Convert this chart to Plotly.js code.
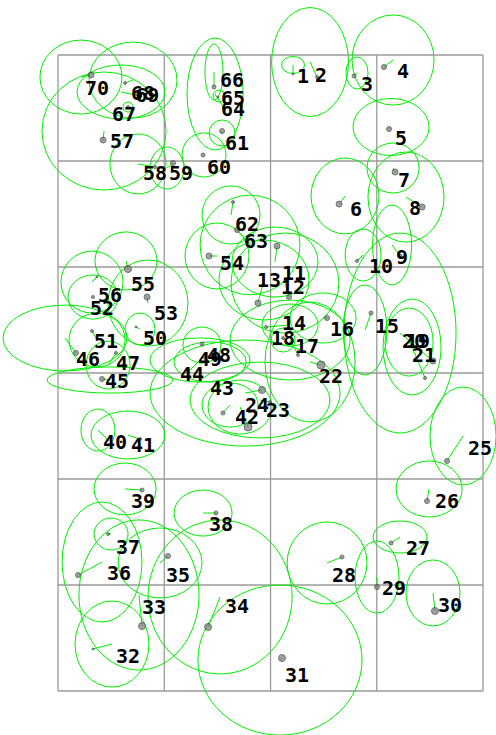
<!DOCTYPE html>
<html><head><meta charset="utf-8">
<script src="https://cdn.plot.ly/plotly-3.0.1.min.js"></script>
<style>html,body{margin:0;padding:0;background:#fff}#chart{width:496px;height:735px}</style>
</head><body><div id="chart"></div>
<script>
const labels = ["1","2","3","4","5","6","7","8","9","10","11","12","13","14","15","16","17","18","19","20","21","22","23","24","25","26","27","28","29","30","31","32","33","34","35","36","37","38","39","40","41","42","43","44","45","46","47","48","49","50","51","52","53","54","55","56","57","58","59","60","61","62","63","64","65","66","67","68","69","70"];
const ptX = [2.212,2.438,2.786,3.068,3.115,2.645,3.172,3.426,3.219,2.814, 2.061,2.174,1.882,1.958,2.946,2.532,2.259,2.118,3.454,3.332, 3.529,2.475,1.995,1.92,3.661,3.473,3.134,2.673,3.002,3.548, 2.108,0.329,0.791,1.412,1.035,0.188,0.471,1.487,0.791,0.471, 0.772,1.788,1.553,1.224,0.414,0.169,0.546,1.355,1.384,0.734, 0.32,0.329,0.838,1.421,0.659,0.367,0.424,0.913,1.082,1.365, 1.544,1.647,1.685,1.562,1.506,1.468,0.659,0.631,0.772,0.311];
const ptY = [0.179,0.208,0.198,0.113,0.698,1.406,1.104,1.434,1.896,1.943, 1.802,2.283,2.34,2.566,2.434,2.481,2.83,2.67,3.047,2.736, 2.887,2.925,3.274,3.16,3.83,4.208,4.604,4.736,5.019,5.245, 5.689,5.604,5.387,5.396,4.726,4.906,4.519,4.321,4.104,3.632, 3.623,3.509,3.377,2.991,3.057,2.811,2.811,2.726,2.858,2.566, 2.604,2.283,2.283,1.896,2.019,2.094,0.802,1.057,1.019,0.943, 0.717,1.387,1.651,0.5,0.396,0.302,0.491,0.264,0.387,0.189];
const vecX = [2.212,2.372,2.814,3.153,3.134,2.701,3.153,3.275,3.144,2.871, 2.042,2.136,1.939,2.184,2.889,2.494,2.184,2.118,3.332,3.304, 3.219,2.372,1.901,1.76,3.812,3.492,3.219,2.532,3.002,3.529, 2.089,0.508,0.762,1.525,0.96,0.414,0.499,1.365,0.631,0.376, 0.659,1.713,1.619,1.336,0.489,0.066,0.471,1.355,1.431,0.772, 0.367,0.329,0.847,1.496,0.64,0.32,0.433,0.753,1.026,1.374, 1.544,1.628,1.807,1.478,1.515,1.468,0.659,0.706,0.593,0.216];
const vecY = [0.094,0.066,0.17,0.047,0.679,1.33,1.066,1.34,1.792,1.887, 1.953,2.151,2.123,2.547,2.594,2.481,2.689,2.689,2.755,2.708, 2.623,2.896,3.255,3.189,3.594,4.094,4.547,4.792,4.925,5.075, 5.708,5.557,5.094,5.113,4.792,4.783,4.519,4.321,4.094,3.538, 3.585,3.321,3.302,2.877,3.066,2.67,2.925,2.736,2.896,2.585, 2.689,2.283,2.34,1.896,1.943,2.142,0.717,1.028,1.066,0.943, 0.736,1.509,1.792,0.368,0.387,0.16,0.491,0.236,0.349,0.208];
const ellRX = [0.108,0.362,0.104,0.386,0.358,0.32,0.245,0.358,0.184,0.169, 0.405,0.508,0.424,0.264,0.207,0.311,0.565,0.113,0.273,0.226, 0.527,0.424,0.659,0.894,0.311,0.311,0.254,0.376,0.207,0.254, 0.772,0.348,0.565,0.678,0.395,0.376,0.16,0.273,0.292,0.16, 0.348,0.301,0.264,0.471,0.593,0.584,0.207,0.179,0.339,0.141, 0.264,0.235,0.376,0.301,0.292,0.292,0.584,0.264,0.16,0.207, 0.122,0.273,0.47,0.264,0.056,0.085,0.047,0.414,0.414,0.386];
const ellRY = [0.08,0.514,0.151,0.425,0.269,0.358,0.236,0.425,0.377,0.245, 0.33,0.472,0.377,0.198,0.425,0.236,0.377,0.113,0.453,0.321, 0.943,0.566,0.358,0.5,0.462,0.264,0.151,0.387,0.34,0.311, 0.708,0.406,0.708,0.726,0.33,0.566,0.151,0.217,0.245,0.198, 0.226,0.255,0.208,0.208,0.123,0.311,0.226,0.17,0.189,0.151, 0.255,0.208,0.406,0.311,0.274,0.292,0.557,0.283,0.198,0.208, 0.123,0.274,0.47,0.528,0.056,0.264,0.047,0.358,0.255,0.349];
const labX = [2.306,2.475,2.908,3.247,3.228,2.805,3.256,3.36,3.238,3.04, 2.221,2.212,1.986,2.221,3.096,2.673,2.344,2.118,3.388,3.351, 3.445,2.569,2.071,1.873,3.972,3.661,3.388,2.692,3.162,3.689, 2.249,0.659,0.904,1.685,1.129,0.574,0.659,1.534,0.8,0.536, 0.8,1.779,1.544,1.261,0.555,0.282,0.659,1.515,1.431,0.913, 0.452,0.414,1.016,1.638,0.8,0.489,0.602,0.913,1.158,1.515, 1.685,1.779,1.864,1.647,1.647,1.638,0.621,0.8,0.84,0.367];
const labY = [0.217,0.208,0.292,0.17,0.802,1.472,1.198,1.462,1.925,2.009, 2.075,2.208,2.142,2.547,2.575,2.604,2.764,2.689,2.717,2.717, 2.849,3.047,3.368,3.321,3.726,4.226,4.67,4.925,5.047,5.208, 5.868,5.689,5.226,5.217,4.925,4.906,4.66,4.443,4.226,3.67, 3.698,3.434,3.16,3.028,3.094,2.887,2.925,2.849,2.887,2.689, 2.717,2.406,2.453,1.981,2.179,2.283,0.83,1.132,1.132,1.075, 0.849,1.613,1.774,0.528,0.425,0.255,0.575,0.38,0.4,0.33];
const dotSize = [2,3,4,5,5,6,6,6,4,3, 6,5,6,3,4,5,3,3,3,3, 6,8,3,7,5,5,4,4,5,7, 7,2,7,7,5,5,3,4,4,2, 3,8,4,3,5,5,3,4,3,2, 3,3,6,6,7,2,6,3,5,4, 5,3,5,3,2,4,3,3,3,6];
const gridCols = 4, gridRows = 6;

const GREEN = '#00ee00';
const shapes = [];
for (let c = 0; c <= gridCols; c++) shapes.push({type:'line', xref:'x', yref:'y', x0:c, x1:c, y0:0, y1:gridRows, line:{color:'#9a9a9a', width:1.3}, layer:'below'});
for (let r = 0; r <= gridRows; r++) shapes.push({type:'line', xref:'x', yref:'y', x0:0, x1:gridCols, y0:r, y1:r, line:{color:'#9a9a9a', width:1.3}, layer:'below'});
for (let i = 0; i < labels.length; i++) {
  shapes.push({type:'circle', xref:'x', yref:'y', x0:vecX[i]-ellRX[i], x1:vecX[i]+ellRX[i], y0:vecY[i]-ellRY[i], y1:vecY[i]+ellRY[i], line:{color:GREEN, width:1}, fillcolor:'rgba(0,0,0,0)', layer:'below'});
}
const lx = [], ly = [];
for (let i = 0; i < labels.length; i++) { lx.push(ptX[i], vecX[i], null); ly.push(ptY[i], vecY[i], null); }

const traces = [
  {type:'scatter', mode:'lines', x:lx, y:ly, line:{color:GREEN, width:1}, hoverinfo:'skip', showlegend:false},
  {type:'scatter', mode:'markers', x:ptX, y:ptY, marker:{size:dotSize, color:'#7a7a7a', line:{color:'#3a3a3a', width:1}}, showlegend:false},
  {type:'scatter', mode:'text', x:labX, y:labY, text:labels, textposition:'middle center', textfont:{family:'DejaVu Sans Mono', size:20, color:'#000', weight:'bold'}, showlegend:false}
];
const layout = {
  width:496, height:735, margin:{l:0,r:0,t:0,b:0},
  paper_bgcolor:'#fff', plot_bgcolor:'#fff',
  xaxis:{range:[-0.546,4.122], visible:false, fixedrange:true},
  yaxis:{range:[6.415,-0.519], visible:false, fixedrange:true},
  shapes:shapes, showlegend:false
};
Plotly.newPlot('chart', traces, layout, {staticPlot:true});
</script></body></html>
